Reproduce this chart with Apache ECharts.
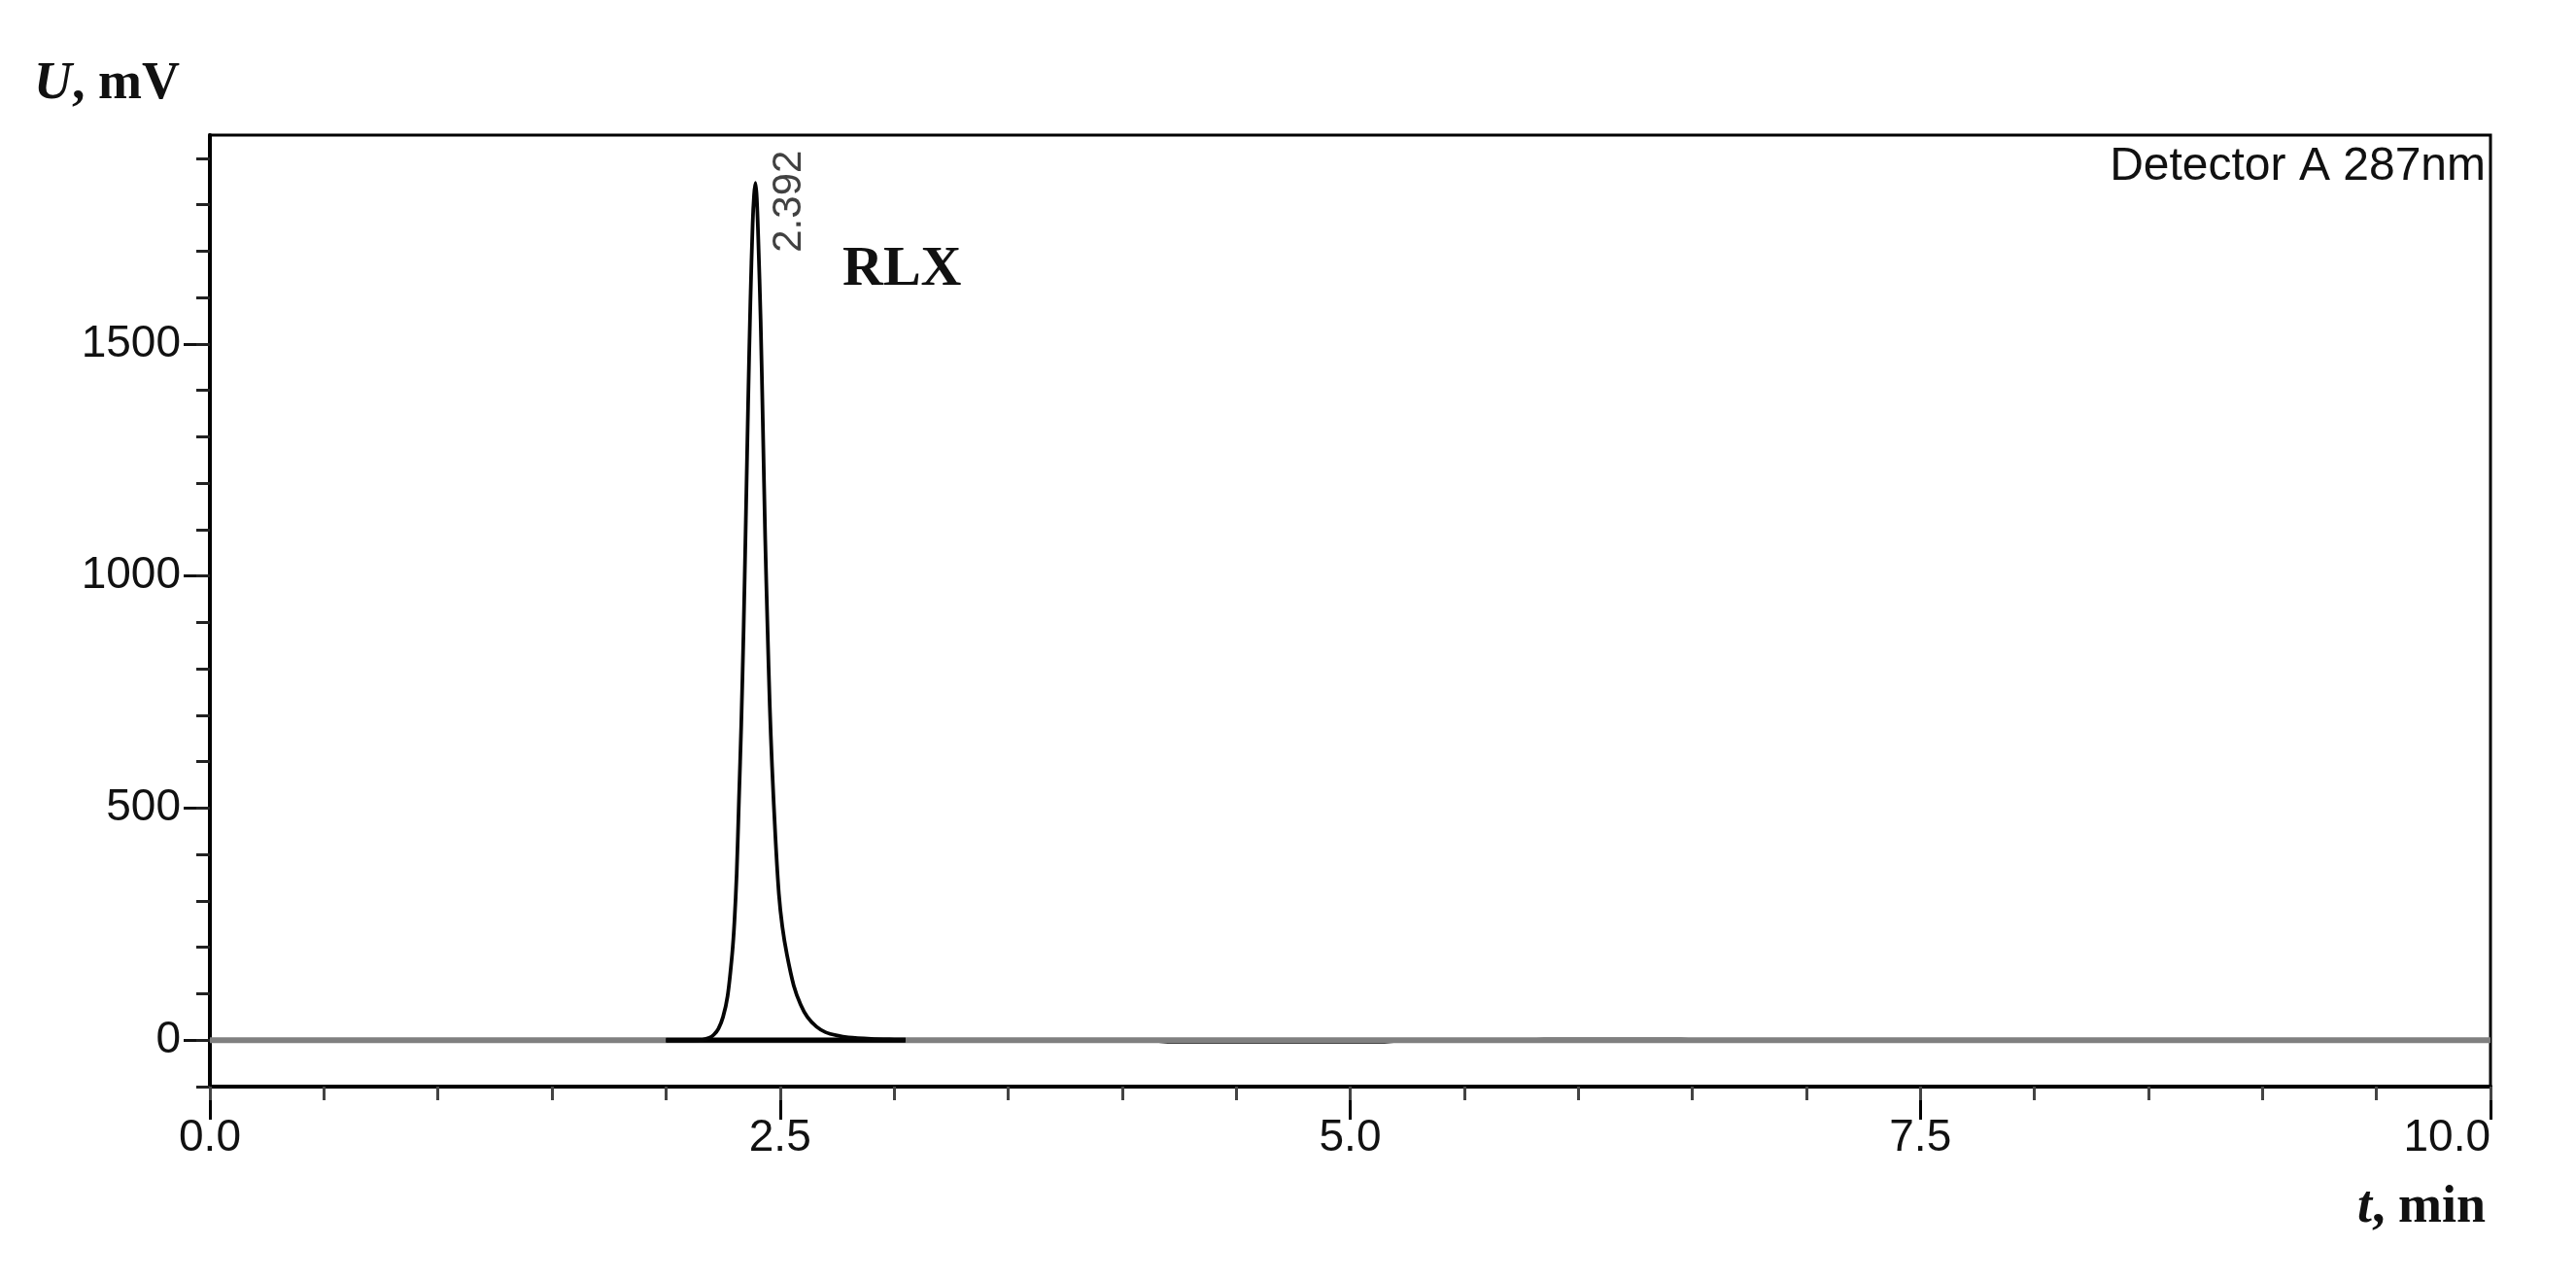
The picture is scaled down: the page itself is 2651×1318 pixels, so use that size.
<!DOCTYPE html>
<html><head><meta charset="utf-8">
<script src="https://cdn.jsdelivr.net/npm/echarts@6/dist/echarts.min.js"></script>
<style>html,body{margin:0;padding:0;background:#fff}#c{width:2651px;height:1318px}</style>
</head><body><div id="c"></div><script>
// Chromatogram: retention time (min) vs detector signal (mV)
const peakTime   = [2.00, 2.10, 2.16, 2.19, 2.21, 2.23, 2.25, 2.27, 2.29, 2.30, 2.31, 2.32, 2.33, 2.34, 2.35, 2.36, 2.37, 2.38, 2.386, 2.392, 2.398, 2.405, 2.415, 2.425, 2.435, 2.445, 2.455, 2.465, 2.48, 2.495, 2.51, 2.53, 2.56, 2.59, 2.62, 2.66, 2.70, 2.75, 2.80, 2.90, 3.00, 3.05];
const peakSignal = [0, 0, 1, 5, 12, 25, 50, 95, 185, 255, 360, 520, 680, 880, 1120, 1370, 1590, 1760, 1820, 1847, 1815, 1720, 1550, 1320, 1080, 890, 720, 590, 435, 315, 245, 185, 118, 77, 50, 29, 17, 10, 6, 3, 1.5, 1];
const tailTime   = [3.05, 3.6, 4.1, 4.2, 5.15, 5.25, 5.75, 5.85, 6.45, 6.55, 10.0];
const tailSignal = [1, 0, 0, -5, -5, 0, 0, 3, 3, 0, 0];
const baseTime   = [0, 10];
const baseSignal = [0, 0];
const integTime  = [2.00, 3.05];
const integSignal= [0, 0];
const peakRT = 2.392, peakHeight = 1847, peakLabel = '2.392';
const xMajor = [0, 2.5, 5, 7.5, 10];
const xMinor = [0, 0.5, 1, 1.5, 2, 2.5, 3, 3.5, 4, 4.5, 5, 5.5, 6, 6.5, 7, 7.5, 8, 8.5, 9, 9.5, 10];
const yMajor = [0, 500, 1000, 1500];
const yMinor = [-100, 0, 100, 200, 300, 400, 500, 600, 700, 800, 900, 1000, 1100, 1200, 1300, 1400, 1500, 1600, 1700, 1800, 1900];
const xMin = 0, xMax = 10, yMin = -100, yMax = 1950;

const zip = (a, b) => a.map((v, i) => [v, b[i]]);
const chart = echarts.init(document.getElementById('c'));
const lab = {fontSize: 46, fontFamily: 'Liberation Sans', color: '#111'};
chart.setOption({
  animation: false,
  backgroundColor: '#fff',
  grid: {left: 216, right: 88, top: 139, bottom: 200, show: true, borderColor: '#000', borderWidth: 3, backgroundColor: 'transparent'},
  xAxis: [
    {type: 'value', min: xMin, max: xMax, position: 'bottom',
     axisLine: {show: true, onZero: false, lineStyle: {color: '#000', width: 4}},
     axisTick: {show: true, customValues: xMajor, length: 34, lineStyle: {color: '#000', width: 3}},
     axisLabel: Object.assign({customValues: xMajor, formatter: v => Number(v).toFixed(1), margin: 30, alignMaxLabel: 'right'}, lab),
     splitLine: {show: false}},
    {type: 'value', min: xMin, max: xMax, position: 'bottom',
     axisLine: {show: false, onZero: false}, axisLabel: {show: false}, splitLine: {show: false},
     axisTick: {show: true, customValues: xMinor, length: 14, lineStyle: {color: '#444', width: 3}}}
  ],
  yAxis: [
    {type: 'value', min: yMin, max: yMax, position: 'left',
     axisLine: {show: true, onZero: false, lineStyle: {color: '#000', width: 4}},
     axisTick: {show: true, customValues: yMajor, length: 27, lineStyle: {color: '#111', width: 3}},
     axisLabel: Object.assign({customValues: yMajor, margin: 30, formatter: v => String(v)}, lab),
     splitLine: {show: false}},
    {type: 'value', min: yMin, max: yMax, position: 'left',
     axisLine: {show: false, onZero: false}, axisLabel: {show: false}, splitLine: {show: false},
     axisTick: {show: true, customValues: yMinor, length: 14, lineStyle: {color: '#222', width: 3}}}
  ],
  series: [
    {type: 'line', data: zip(tailTime, tailSignal), symbol: 'none', z: 2,
     lineStyle: {color: '#333', width: 2.5}},
    {type: 'line', data: zip(baseTime, baseSignal), symbol: 'none', z: 3,
     lineStyle: {color: '#808080', width: 6}},
    {type: 'line', data: zip(integTime, integSignal), symbol: 'none', z: 4,
     lineStyle: {color: '#000', width: 5}},
    {type: 'line', data: zip(peakTime, peakSignal), symbol: 'none', z: 5, smooth: 0.3,
     lineStyle: {color: '#050505', width: 3.8}},
    {type: 'scatter', data: [[peakRT, peakHeight]], symbolSize: 1, z: 6,
     itemStyle: {color: 'rgba(0,0,0,0)'},
     label: {show: true, formatter: peakLabel, rotate: 90, position: 'inside', offset: [-19, 35],
             fontSize: 42, fontFamily: 'Liberation Sans', color: '#111'}}
  ],
  graphic: [
    {type: 'text', left: 35, top: 60, style: {text: '{i|U}{b|, mV}', rich: {
      i: {fontSize: 54, fontFamily: 'Liberation Serif', fontStyle: 'italic', fontWeight: 'bold', fill: '#111'},
      b: {fontSize: 54, fontFamily: 'Liberation Serif', fontWeight: 'bold', fill: '#111'}}}},
    {type: 'text', right: 93, top: 1216, style: {text: '{i|t}{b|, min}', rich: {
      i: {fontSize: 54, fontFamily: 'Liberation Serif', fontStyle: 'italic', fontWeight: 'bold', fill: '#111'},
      b: {fontSize: 54, fontFamily: 'Liberation Serif', fontWeight: 'bold', fill: '#111'}}}},
    {type: 'text', right: 93, top: 148, style: {text: 'Detector A 287nm', fontSize: 48, fontFamily: 'Liberation Sans', fill: '#111'}},
    {type: 'text', left: 867, top: 249, style: {text: 'RLX', fontSize: 58, fontFamily: 'Liberation Serif', fontWeight: 'bold', fill: '#111'}}
  ]
});
</script></body></html>
